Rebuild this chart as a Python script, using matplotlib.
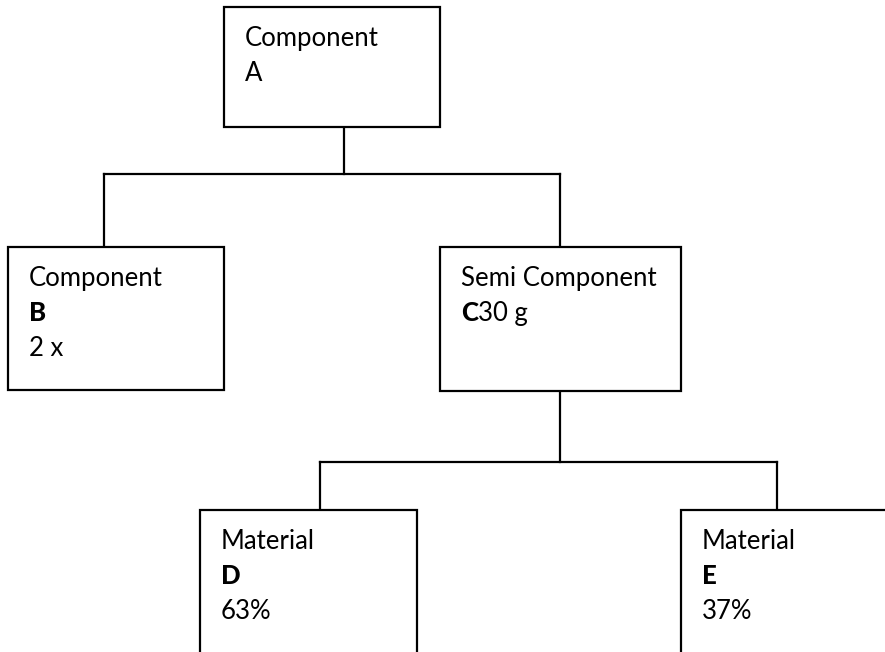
"""Product structure tree: component A broken down into parts and materials."""

import matplotlib.patches as patches
import matplotlib.pyplot as plt

# node content
NODE_TITLES = ["Component", "Component", "Semi Component", "Material", "Material"]
NODE_CODES = ["A", "B", "C", "D", "E"]
NODE_AMOUNTS = ["", "2 x", "30 g", "63%", "37%"]
CODE_BOLD = [False, True, True, True, True]
AMOUNT_INLINE = [False, False, True, False, False]
PARENTS = [None, 0, 0, 2, 2]

# layout in pixels (x0, y0, x1, y1), y grows downwards
BOXES = [
    (224, 7, 440, 127),
    (8, 247, 224, 390),
    (440, 247, 681, 391),
    (200, 510, 417, 720),
    (681, 510, 960, 720),
]
DROP_X = [344, None, 560, None, None]   # where the connector leaves a parent
RISE_X = [None, 104, 560, 320, 777]     # where the connector enters a child
BUS_Y = [174, None, 462, None, None]    # height of the horizontal connector
TEXT_PAD = (21, 39)
LINE_GAP = 35

W, H = 885, 652
LW = 1.6
FONT = ["Lato", "DejaVu Sans"]
FS = 18.5


def main() -> None:
    fig = plt.figure(figsize=(W / 100, H / 100), dpi=100)
    ax = fig.add_axes([0, 0, 1, 1])
    ax.set_xlim(0, W)
    ax.set_ylim(H, 0)
    ax.axis("off")

    # connectors
    for parent in range(len(BOXES)):
        kids = [i for i, p in enumerate(PARENTS) if p == parent]
        if not kids:
            continue
        bus = BUS_Y[parent]
        ax.plot([DROP_X[parent]] * 2, [BOXES[parent][3], bus], color="black", lw=LW)
        xs = [RISE_X[k] for k in kids]
        ax.plot([min(xs), max(xs)], [bus, bus], color="black", lw=LW,
                solid_capstyle="projecting")
        for k in kids:
            ax.plot([RISE_X[k]] * 2, [bus, BOXES[k][1]], color="black", lw=LW)

    # boxes and labels
    for i, (x0, y0, x1, y1) in enumerate(BOXES):
        ax.add_patch(patches.Rectangle((x0, y0), x1 - x0, y1 - y0, facecolor="white",
                                       edgecolor="black", linewidth=LW, zorder=2))
        tx, ty = x0 + TEXT_PAD[0], y0 + TEXT_PAD[1]
        kw = dict(family=FONT, fontsize=FS, va="baseline", ha="left", zorder=3)
        ax.text(tx, ty, NODE_TITLES[i], **kw)
        code = ax.text(tx, ty + LINE_GAP, NODE_CODES[i],
                       fontweight="black" if CODE_BOLD[i] else "normal", **kw)
        if not NODE_AMOUNTS[i]:
            continue
        if AMOUNT_INLINE[i]:
            ax.annotate(NODE_AMOUNTS[i], xy=(1, ty + LINE_GAP), xycoords=(code, "data"),
                        **kw)
        else:
            ax.text(tx, ty + 2 * LINE_GAP, NODE_AMOUNTS[i], **kw)

    fig.savefig("out.png", dpi=100)
    plt.close(fig)


if __name__ == "__main__":
    main()
